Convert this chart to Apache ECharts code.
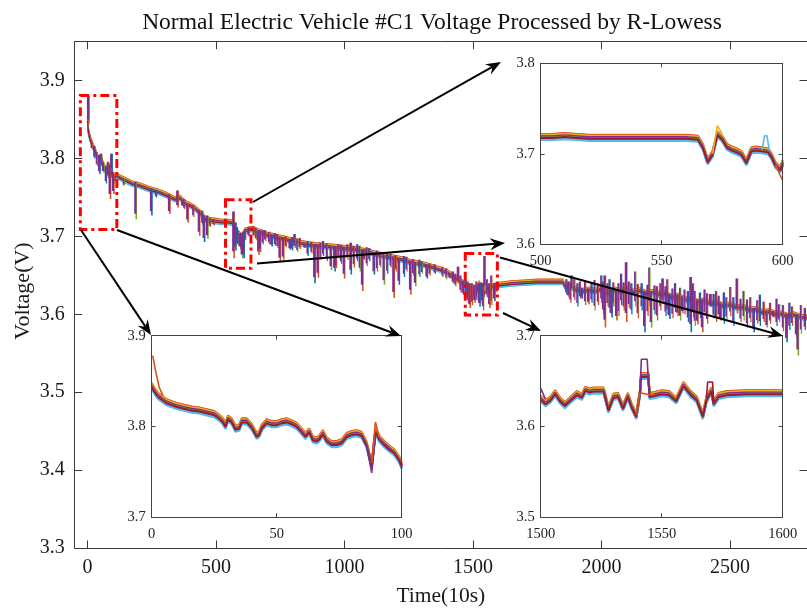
<!DOCTYPE html>
<html>
<head>
<meta charset="utf-8">
<script src="https://cdn.jsdelivr.net/npm/echarts@6/dist/echarts.min.js"></script>
<style>
  html, body { margin: 0; padding: 0; background: #ffffff; }
  #chart { width: 807px; height: 612px; }
</style>
</head>
<body>
<div id="chart"></div>
<script>
// ---------------- data ----------------
const xTickValues = [0, 500, 1000, 1500, 2000, 2500];
const yTickValues = [3.3, 3.4, 3.5, 3.6, 3.7, 3.8, 3.9];

// pack voltage trend (time in 10 s steps, volts)
const trendTime = [0, 4, 10, 20, 30, 38, 45, 52, 60, 68, 75, 82, 88, 95, 102, 110, 125, 150, 175, 200,
  225, 250, 280, 310, 340, 360, 380, 400, 420, 440, 460, 480, 500, 520, 545, 565, 572, 580, 590, 600,
  615, 640, 660, 680, 700, 720, 740, 760, 780, 800, 830, 860, 890, 920, 950, 980, 1010, 1040, 1070, 1100,
  1130, 1160, 1190, 1220, 1250, 1280, 1310, 1340, 1370, 1400, 1420, 1440, 1460, 1480, 1495, 1510, 1525, 1538, 1550, 1562,
  1575, 1590, 1600, 1650, 1700, 1750, 1800, 1850, 1862, 1880, 1900, 1925, 1950, 1975, 2000, 2025, 2050, 2075, 2100, 2125,
  2150, 2175, 2200, 2225, 2250, 2275, 2300, 2325, 2350, 2375, 2400, 2425, 2450, 2475, 2500, 2525, 2550, 2575, 2600, 2625,
  2650, 2675, 2700, 2725, 2750, 2775, 2800];
const trendVolt = [3.850, 3.834, 3.826, 3.817, 3.810, 3.802, 3.798, 3.803, 3.793, 3.786, 3.788, 3.792, 3.776, 3.785, 3.772, 3.779, 3.776, 3.772, 3.768, 3.766,
  3.763, 3.760, 3.757, 3.753, 3.748, 3.750, 3.743, 3.740, 3.736, 3.730, 3.722, 3.721, 3.720, 3.719, 3.719, 3.718, 3.712, 3.704, 3.703, 3.700,
  3.708, 3.710, 3.707, 3.705, 3.702, 3.701, 3.699, 3.698, 3.696, 3.695, 3.692, 3.690, 3.689, 3.688, 3.687, 3.686, 3.685, 3.684, 3.682, 3.680,
  3.677, 3.675, 3.673, 3.671, 3.668, 3.666, 3.664, 3.661, 3.658, 3.654, 3.650, 3.645, 3.641, 3.634, 3.630, 3.627, 3.640, 3.620, 3.637, 3.631,
  3.636, 3.637, 3.638, 3.640, 3.641, 3.642, 3.642, 3.642, 3.634, 3.637, 3.632, 3.630, 3.632, 3.630, 3.633, 3.628, 3.632, 3.630, 3.634, 3.629,
  3.631, 3.627, 3.629, 3.626, 3.627, 3.622, 3.624, 3.619, 3.620, 3.616, 3.618, 3.614, 3.615, 3.611, 3.613, 3.609, 3.610, 3.606, 3.607, 3.603,
  3.604, 3.601, 3.601, 3.598, 3.600, 3.597, 3.596];

// offset of each cell from the pack trend (V)
const cellOffset = [-0.0030, 0.0015, 0.0028, -0.0005, 0.0008, -0.0038, 0.0002,
                    -0.0022, 0.0030, 0.0020, 0.0005, -0.0010, -0.0030, -0.0015];

// large transients: [time, upper voltage, lower voltage]
const spikes = [
  [2, 3.880, 3.845], [45, 3.805, 3.780], [60, 3.795, 3.782], [86, 3.792, 3.748], [92, 3.806, 3.785],
  [99, 3.782, 3.754], [186, 3.770, 3.722], [247, 3.762, 3.727], [317, 3.754, 3.729], [349, 3.759, 3.737],
  [368, 3.746, 3.739], [388, 3.742, 3.718], [433, 3.734, 3.701], [452, 3.727, 3.693], [465, 3.727, 3.697],
  [567, 3.732, 3.672], [574, 3.718, 3.682], [593, 3.704, 3.684], [600, 3.704, 3.672], [606, 3.706, 3.672],
  [664, 3.708, 3.676], [670, 3.708, 3.680], [715, 3.702, 3.687], [747, 3.699, 3.668], [760, 3.698, 3.670],
  [786, 3.696, 3.683], [805, 3.703, 3.685], [844, 3.691, 3.685], [882, 3.690, 3.640], [895, 3.690, 3.647],
  [946, 3.688, 3.657], [960, 3.687, 3.655], [965, 3.687, 3.659], [997, 3.686, 3.646], [1023, 3.692, 3.651],
  [1068, 3.683, 3.630], [1074, 3.684, 3.670], [1113, 3.679, 3.651], [1152, 3.676, 3.638], [1190, 3.673, 3.621],
  [1210, 3.672, 3.638], [1255, 3.668, 3.625], [1274, 3.667, 3.636], [1319, 3.663, 3.646], [1409, 3.653, 3.646],
  [1441, 3.661, 3.640], [1460, 3.643, 3.625], [1486, 3.640, 3.608], [1505, 3.638, 3.615], [1524, 3.640, 3.610],
  [1544, 3.675, 3.630], [1563, 3.640, 3.608], [1582, 3.640, 3.617], [1871, 3.642, 3.621], [1883, 3.650, 3.630],
  [1922, 3.634, 3.620], [1948, 3.633, 3.613], [2012, 3.650, 3.583], [2038, 3.632, 3.596], [2057, 3.632, 3.592],
  [2095, 3.667, 3.590], [2166, 3.630, 3.577], [2192, 3.630, 3.583], [2237, 3.646, 3.613], [2263, 3.626, 3.594],
  [2295, 3.625, 3.598], [2314, 3.623, 3.601], [2346, 3.648, 3.577], [2372, 3.619, 3.587], [2391, 3.619, 3.577],
  [2423, 3.626, 3.610], [2462, 3.615, 3.592], [2526, 3.646, 3.601], [2591, 3.608, 3.577], [2642, 3.605, 3.583],
  [2668, 3.604, 3.596], [2719, 3.601, 3.564], [2757, 3.600, 3.570], [2763, 3.600, 3.547]
];

// smaller ripples around the trend: [time, upper voltage, lower voltage]
const ripples = [
  [15, 3.822, 3.812], [25, 3.816, 3.800], [35, 3.808, 3.790], [52, 3.806, 3.790], [70, 3.790, 3.768],
  [78, 3.796, 3.775], [140, 3.774, 3.765], [265, 3.760, 3.750],
  [375, 3.748, 3.735], [410, 3.740, 3.725], [445, 3.733, 3.715], [475, 3.724, 3.712], [490, 3.722, 3.714],
  [580, 3.712, 3.690], [585, 3.708, 3.688], [612, 3.710, 3.695], [625, 3.712, 3.700], [645, 3.713, 3.700],
  [655, 3.711, 3.695], [680, 3.708, 3.690], [690, 3.708, 3.694], [705, 3.706, 3.690], [728, 3.704, 3.688],
  [738, 3.703, 3.685], [770, 3.700, 3.686], [795, 3.699, 3.682], [815, 3.697, 3.680], [825, 3.698, 3.684],
  [855, 3.694, 3.675], [870, 3.693, 3.678], [905, 3.692, 3.670], [915, 3.694, 3.675], [930, 3.691, 3.668],
  [975, 3.690, 3.672], [985, 3.689, 3.665], [1010, 3.690, 3.670], [1035, 3.688, 3.660], [1048, 3.690, 3.668],
  [1058, 3.688, 3.655], [1085, 3.686, 3.662], [1095, 3.685, 3.668], [1125, 3.682, 3.655], [1138, 3.680, 3.660],
  [1165, 3.679, 3.652], [1178, 3.678, 3.660], [1198, 3.676, 3.655], [1230, 3.675, 3.648], [1240, 3.674, 3.655],
  [1265, 3.671, 3.650], [1290, 3.670, 3.648], [1300, 3.668, 3.652], [1330, 3.665, 3.650], [1350, 3.664, 3.652],
  [1380, 3.661, 3.648], [1395, 3.659, 3.645], [1420, 3.655, 3.640], [1430, 3.652, 3.636], [1450, 3.650, 3.628],
  [1470, 3.645, 3.622], [1478, 3.642, 3.615], [1495, 3.640, 3.612], [1512, 3.642, 3.618], [1532, 3.641, 3.614],
  [1538, 3.640, 3.605], [1552, 3.645, 3.622], [1570, 3.650, 3.612], [1590, 3.641, 3.628],
  [1862, 3.645, 3.625], [1878, 3.640, 3.615], [1893, 3.645, 3.618], [1905, 3.640, 3.610], [1915, 3.642, 3.620],
  [1935, 3.643, 3.612], [1960, 3.641, 3.615], [1972, 3.644, 3.605], [1985, 3.640, 3.612], [1998, 3.650, 3.615],
  [2005, 3.642, 3.600], [2022, 3.640, 3.610], [2030, 3.645, 3.602], [2045, 3.641, 3.610], [2065, 3.640, 3.598],
  [2075, 3.652, 3.612], [2085, 3.641, 3.605], [2105, 3.642, 3.608], [2115, 3.640, 3.600], [2130, 3.655, 3.610],
  [2140, 3.639, 3.595], [2155, 3.640, 3.605], [2178, 3.638, 3.598], [2185, 3.660, 3.610], [2205, 3.637, 3.600],
  [2215, 3.636, 3.592], [2228, 3.640, 3.605], [2248, 3.636, 3.598], [2255, 3.645, 3.600], [2275, 3.633, 3.595],
  [2285, 3.640, 3.603], [2305, 3.634, 3.592], [2322, 3.632, 3.600], [2335, 3.630, 3.590], [2355, 3.640, 3.596],
  [2362, 3.630, 3.585], [2382, 3.628, 3.595], [2400, 3.632, 3.598], [2410, 3.627, 3.588], [2435, 3.626, 3.595],
  [2445, 3.630, 3.590], [2455, 3.624, 3.596], [2475, 3.628, 3.588], [2485, 3.622, 3.593], [2500, 3.635, 3.598],
  [2512, 3.622, 3.585], [2540, 3.620, 3.590], [2552, 3.630, 3.592], [2565, 3.619, 3.583], [2578, 3.622, 3.590],
  [2605, 3.618, 3.588], [2615, 3.625, 3.585], [2630, 3.616, 3.590], [2655, 3.615, 3.588], [2680, 3.620, 3.585],
  [2690, 3.613, 3.590], [2705, 3.612, 3.578], [2730, 3.615, 3.580], [2740, 3.610, 3.585], [2775, 3.612, 3.575],
  [2790, 3.608, 3.580]
];

// detail window A: 0 - 100
const zoomATime = [0, 1, 2, 3, 4, 5, 6, 8, 10, 13, 16, 19, 22, 25, 27, 28.5, 29.5, 30.5, 32, 33.5,
  35, 36, 38, 40, 42, 43, 44, 46, 48, 50, 52, 54, 56, 58, 60, 61.5, 63, 64.5, 66, 67,
  68.5, 70, 72, 74, 76, 78, 80, 82, 84, 86, 88, 89.5, 91, 93, 95, 97, 99, 100];
const zoomAVolt = [3.845, 3.840, 3.836, 3.833, 3.831, 3.829, 3.827, 3.825, 3.823, 3.821, 3.819, 3.818, 3.816, 3.814, 3.810, 3.806, 3.801, 3.809, 3.806, 3.798,
  3.799, 3.806, 3.806, 3.800, 3.790, 3.792, 3.799, 3.805, 3.803, 3.803, 3.805, 3.806, 3.804, 3.801, 3.795, 3.790, 3.795, 3.786, 3.785, 3.787,
  3.793, 3.785, 3.781, 3.781, 3.783, 3.790, 3.792, 3.793, 3.791, 3.780, 3.757, 3.795, 3.787, 3.781, 3.776, 3.772, 3.764, 3.757];
const zoomAStart = [[0.4, 3.878], [1.5, 3.862], [3, 3.843], [4.5, 3.834]];
const zoomADip = [[86, 3.779], [88, 3.749], [89.5, 3.790]];
const zoomAPeak = [[88, 3.760], [89.5, 3.805], [91, 3.788]];

// detail window B: 500 - 600
const zoomBTime = [500, 505, 510, 515, 520, 530, 540, 550, 560, 565, 567, 569, 571, 573, 575, 577, 579, 581, 583, 585,
  587, 589, 592, 594, 595.5, 597, 599, 600];
const zoomBVolt = [3.719, 3.719, 3.720, 3.719, 3.718, 3.718, 3.718, 3.718, 3.718, 3.717, 3.708, 3.692, 3.700, 3.722, 3.717, 3.708, 3.705, 3.703, 3.700, 3.691,
  3.704, 3.705, 3.704, 3.703, 3.697, 3.688, 3.683, 3.690];
const zoomBPeak = [[571, 3.700], [573, 3.731], [575, 3.722]];
const zoomBBump = [[591.5, 3.704], [592.5, 3.720], [593.5, 3.720], [594.5, 3.703]];
const zoomBLow = [[597, 3.688], [599, 3.676], [600, 3.671]];

// detail window C: 1500 - 1600
const zoomCTime = [1500, 1502, 1504, 1506, 1508, 1510, 1512, 1515, 1517, 1518.5, 1520, 1522, 1526, 1528, 1530, 1532, 1534, 1536, 1537.5, 1539.5,
  1541, 1541.5, 1544.5, 1545, 1547, 1550, 1553, 1556, 1559, 1562, 1564.5, 1567, 1568.5, 1570.5, 1571.5, 1573.5, 1577, 1585, 1600];
const zoomCVolt = [3.631, 3.626, 3.630, 3.637, 3.629, 3.624, 3.629, 3.636, 3.633, 3.641, 3.639, 3.640, 3.640, 3.619, 3.633, 3.634, 3.621, 3.634, 3.623, 3.612,
  3.637, 3.656, 3.656, 3.634, 3.635, 3.637, 3.636, 3.629, 3.646, 3.636, 3.630, 3.612, 3.630, 3.640, 3.626, 3.634, 3.636, 3.637, 3.637];
const zoomCPeak = [[1541, 3.637], [1541.6, 3.674], [1544, 3.674], [1544.8, 3.636]];
const zoomCFlat = [[1539.5, 3.613], [1541, 3.637], [1545, 3.635], [1547, 3.635]];
const zoomCBump = [[1568.5, 3.632], [1569, 3.649], [1571, 3.649], [1571.5, 3.628]];
const zoomCStart = [[1500, 3.642], [1502, 3.630]];

// highlighted regions: [t0, t1, v0, v1]
const boxes = [[-28, 114, 3.709, 3.881], [537, 636, 3.659, 3.747], [1470, 1595, 3.599, 3.678]];

// ---------------- styling ----------------
const FONT = '"Liberation Serif", "Times New Roman", serif';
const AXIS_COLOR = '#3a3a3a';
const palette = ['#0072BD', '#D95319', '#EDB120', '#7E2F8E', '#77AC30', '#4DBEEE', '#A2142F'];
const plainNumber = v => String(Math.round(v * 1000) / 1000);

const chart = echarts.init(document.getElementById('chart'), null, { renderer: 'canvas' });

// grid 0 is the main plot, grids 1..3 are the magnified windows
const grids = [
  { left: 74.7, top: 41.7, width: 740, height: 511 },
  { left: 151.7, top: 335.7, width: 250, height: 181.6 },
  { left: 540.7, top: 63.3, width: 242, height: 181 },
  { left: 540.7, top: 335.7, width: 242, height: 181.6 }
];
const insetRanges = [
  { x: [0, 100], y: [3.7, 3.9] },
  { x: [500, 600], y: [3.6, 3.8] },
  { x: [1500, 1600], y: [3.5, 3.7] }
];

const gridOpts = grids.map((g, i) => Object.assign({
  show: i > 0, backgroundColor: '#ffffff', borderWidth: 0, containLabel: false
}, g, i > 0 ? { z: 10 } : {}));

const xAxes = [];
const yAxes = [];
// main axes (bottom/left with labels, top/right closing the box)
const mainX = {
  gridIndex: 0, type: 'value', min: -50, max: 2800,
  axisLine: { show: true, onZero: false, lineStyle: { color: AXIS_COLOR, width: 1 } },
  axisTick: { inside: true, length: 7.5, lineStyle: { color: AXIS_COLOR }, customValues: xTickValues },
  splitLine: { show: false }
};
xAxes.push(Object.assign({}, mainX, {
  position: 'bottom',
  axisLabel: { customValues: xTickValues, formatter: plainNumber, fontFamily: FONT, fontSize: 20, color: '#1a1a1a', margin: 10 },
  name: 'Time(10s)', nameLocation: 'middle', nameGap: 37,
  nameTextStyle: { fontFamily: FONT, fontSize: 21.5, color: '#1a1a1a' }
}));
xAxes.push(Object.assign({}, mainX, { position: 'top', axisLabel: { show: false } }));
const mainY = {
  gridIndex: 0, type: 'value', min: 3.3, max: 3.95,
  axisLine: { show: true, onZero: false, lineStyle: { color: AXIS_COLOR, width: 1 } },
  axisTick: { inside: true, length: 7.5, lineStyle: { color: AXIS_COLOR }, customValues: yTickValues },
  splitLine: { show: false }
};
yAxes.push(Object.assign({}, mainY, {
  position: 'left',
  axisLabel: { customValues: yTickValues, formatter: v => v.toFixed(1), fontFamily: FONT, fontSize: 20, color: '#1a1a1a', margin: 10 }
}));
yAxes.push(Object.assign({}, mainY, { position: 'right', axisLabel: { show: false } }));

// magnified window axes
insetRanges.forEach((r, k) => {
  const gi = k + 1;
  const common = {
    gridIndex: gi, type: 'value', z: 12,
    axisLine: { show: true, onZero: false, lineStyle: { color: '#444444', width: 1 } },
    axisTick: { inside: true, length: 4, lineStyle: { color: '#444444' } },
    splitLine: { show: false }
  };
  xAxes.push(Object.assign({}, common, {
    position: 'bottom', min: r.x[0], max: r.x[1], interval: 50,
    axisLabel: { formatter: plainNumber, fontFamily: FONT, fontSize: 14.5, color: '#222222', margin: 9 }
  }));
  xAxes.push(Object.assign({}, common, {
    position: 'top', min: r.x[0], max: r.x[1], interval: 50, axisLabel: { show: false }
  }));
  yAxes.push(Object.assign({}, common, {
    position: 'left', min: r.y[0], max: r.y[1], interval: 0.1,
    axisLabel: { formatter: v => v.toFixed(1), fontFamily: FONT, fontSize: 14.5, color: '#222222', margin: 6 }
  }));
  yAxes.push(Object.assign({}, common, {
    position: 'right', min: r.y[0], max: r.y[1], interval: 0.1, axisLabel: { show: false }
  }));
});

const series = [];
function cellSeries(times, volts, axisIdx, z, width) {
  cellOffset.forEach((off, i) => {
    series.push({
      type: 'line', xAxisIndex: axisIdx * 2, yAxisIndex: axisIdx * 2, z: z,
      data: times.map((t, k) => [t, volts[k] + off]),
      showSymbol: false, symbol: 'none', silent: true,
      lineStyle: { color: palette[i % palette.length], width: width },
      clip: true
    });
  });
}
function extraSeries(points, axisIdx, color, z) {
  series.push({
    type: 'line', xAxisIndex: axisIdx * 2, yAxisIndex: axisIdx * 2, z: z,
    data: points, showSymbol: false, symbol: 'none', silent: true,
    lineStyle: { color: color, width: 1.6 }, clip: true
  });
}
// vertical transient strokes drawn through the main axes
function transientSeries(list, widthMain, widthTip, z) {
  series.push({
    type: 'custom', xAxisIndex: 0, yAxisIndex: 0, z: z, silent: true, clip: true,
    data: list,
    encode: { x: 0, y: [1, 2] },
    renderItem: function (params, api) {
      const top = api.coord([api.value(0), api.value(1)]);
      const bot = api.coord([api.value(0), api.value(2)]);
      const inner = bot[1] - (bot[1] - top[1]) * 0.15;
      const tipColor = params.dataIndex % 3 === 1 ? '#0072BD' : (params.dataIndex % 4 === 2 ? '#77AC30' : '#D95319');
      return {
        type: 'group',
        children: [
          { type: 'line', shape: { x1: top[0] + 0.9, y1: top[1], x2: bot[0] + 0.9, y2: bot[1] },
            style: { stroke: tipColor, lineWidth: widthTip } },
          { type: 'line', shape: { x1: top[0], y1: top[1], x2: bot[0], y2: inner },
            style: { stroke: '#7E2F8E', lineWidth: widthMain } }
        ]
      };
    }
  });
}

// main plot cells and transients
cellSeries(trendTime, trendVolt, 0, 2, 1.3);
transientSeries(ripples, 1.6, 1.3, 3);
transientSeries(spikes, 2.2, 1.6, 4);

// magnified windows
cellSeries(zoomATime, zoomAVolt, 1, 11, 2);
extraSeries(zoomAStart, 1, '#D95319', 11);
extraSeries(zoomADip, 1, '#7E2F8E', 11);
extraSeries(zoomAPeak, 1, '#D95319', 11);

cellSeries(zoomBTime, zoomBVolt, 2, 11, 2);
extraSeries(zoomBPeak, 2, '#EDB120', 11);
extraSeries(zoomBBump, 2, '#4DBEEE', 11);
extraSeries(zoomBLow, 2, '#D95319', 11);

cellSeries(zoomCTime, zoomCVolt, 3, 11, 2);
extraSeries(zoomCFlat, 3, '#D95319', 11);
extraSeries(zoomCPeak, 3, '#7E2F8E', 11);
extraSeries(zoomCBump, 3, '#A2142F', 11);
extraSeries(zoomCStart, 3, '#7E2F8E', 11);

chart.setOption({
  animation: false,
  backgroundColor: '#ffffff',
  title: {
    text: 'Normal Electric Vehicle #C1 Voltage Processed by R-Lowess',
    left: 432, top: 11, textAlign: 'center', padding: 0,
    textStyle: { fontFamily: FONT, fontSize: 23.5, fontWeight: 'normal', color: '#111111' }
  },
  grid: gridOpts,
  xAxis: xAxes,
  yAxis: yAxes,
  series: series
});

// annotations: highlight boxes, arrows and the y-axis title
const arrows = [
  [[253, 202], [501, 62]],
  [[257, 263.5], [505, 243]],
  [[500, 257.5], [783, 336]],
  [[503, 313], [541, 331]],
  [[81, 230], [151, 335]],
  [[117, 230], [401, 336]]
];
const graphics = [];
boxes.forEach(b => {
  const p0 = chart.convertToPixel({ gridIndex: 0 }, [b[0], b[3]]);
  const p1 = chart.convertToPixel({ gridIndex: 0 }, [b[1], b[2]]);
  graphics.push({
    type: 'rect', z: 100, silent: true,
    shape: { x: p0[0], y: p0[1], width: p1[0] - p0[0], height: p1[1] - p0[1] },
    style: { fill: null, stroke: '#FF0000', lineWidth: 3, lineDash: [9, 4, 3, 4] }
  });
});
arrows.forEach(a => {
  const [s, e] = a;
  const dx = e[0] - s[0], dy = e[1] - s[1];
  const len = Math.hypot(dx, dy);
  const ux = dx / len, uy = dy / len, nx = -uy, ny = ux;
  const L = 15, W = 6, notch = 10;
  graphics.push({
    type: 'line', z: 101, silent: true,
    shape: { x1: s[0], y1: s[1], x2: e[0] - ux * notch, y2: e[1] - uy * notch },
    style: { stroke: '#000000', lineWidth: 2 }
  });
  graphics.push({
    type: 'polygon', z: 101, silent: true,
    shape: { points: [
      [e[0], e[1]],
      [e[0] - ux * L + nx * W, e[1] - uy * L + ny * W],
      [e[0] - ux * notch, e[1] - uy * notch],
      [e[0] - ux * L - nx * W, e[1] - uy * L - ny * W]
    ] },
    style: { fill: '#000000' }
  });
});
graphics.push({
  type: 'text', z: 101, silent: true, x: 23, y: 291, rotation: Math.PI / 2,
  style: { text: 'Voltage(V)', font: '22px ' + FONT, fill: '#1a1a1a', align: 'center', verticalAlign: 'middle' }
});
chart.setOption({ graphic: graphics });
</script>
</body>
</html>
